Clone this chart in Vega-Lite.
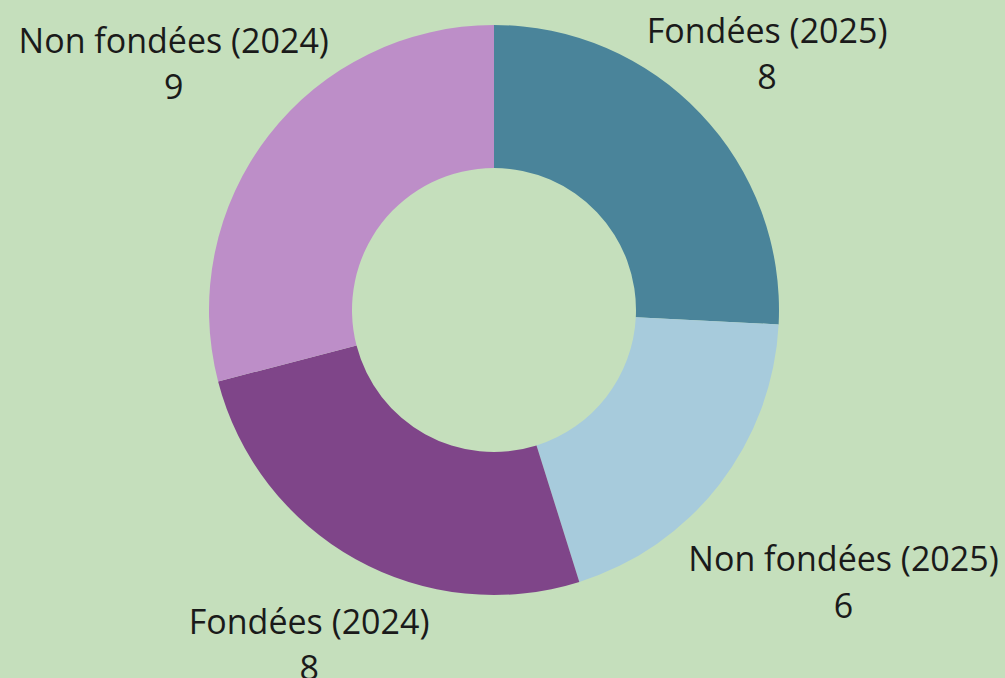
{
  "$schema": "https://vega.github.io/schema/vega-lite/v6.json",
  "autosize": "none",
  "width": 988,
  "height": 620,
  "padding": {"left": 0, "top": 0, "right": 17, "bottom": 58},
  "background": "#c5dfbc",
  "config": {"view": {"stroke": null}, "text": {"font": "Open Sans", "fontSize": 34, "color": "#1a1a1a", "align": "center", "baseline": "middle"}},
  "data": {
    "values": [
      {"cat": "Fondées (2025)", "ordre": 1, "n": 8},
      {"cat": "Non fondées (2025)", "ordre": 2, "n": 6},
      {"cat": "Fondées (2024)", "ordre": 3, "n": 8},
      {"cat": "Non fondées (2024)", "ordre": 4, "n": 9}
    ]
  },
  "encoding": {
    "theta": {"field": "n", "type": "quantitative", "stack": true},
    "order": {"field": "ordre", "type": "quantitative", "sort": "ascending"}
  },
  "layer": [
    {
      "mark": {"type": "arc", "outerRadius": 285, "innerRadius": 142, "stroke": null},
      "encoding": {
        "color": {
          "field": "cat",
          "type": "nominal",
          "legend": null,
          "scale": {
            "domain": ["Fondées (2025)", "Non fondées (2025)", "Fondées (2024)", "Non fondées (2024)"],
            "range": ["#4a849a", "#a7cbdc", "#7f4589", "#bd8ec8"]
          }
        }
      }
    },
    {
      "mark": {"type": "text", "radius": 374, "dy": -19.5, "dx": 2},
      "encoding": {"text": {"condition": {"test": "datum.cat === 'Fondées (2025)'", "field": "cat", "type": "nominal"}, "value": ""}}
    },
    {
      "mark": {"type": "text", "radius": 374, "dy": 27, "dx": 2},
      "encoding": {"text": {"condition": {"test": "datum.cat === 'Fondées (2025)'", "field": "n", "type": "quantitative"}, "value": ""}}
    },
    {
      "mark": {"type": "text", "radius": 442, "dy": -19.5},
      "encoding": {"text": {"condition": {"test": "datum.cat === 'Non fondées (2025)'", "field": "cat", "type": "nominal"}, "value": ""}}
    },
    {
      "mark": {"type": "text", "radius": 442, "dy": 27},
      "encoding": {"text": {"condition": {"test": "datum.cat === 'Non fondées (2025)'", "field": "n", "type": "quantitative"}, "value": ""}}
    },
    {
      "mark": {"type": "text", "radius": 381, "dy": -19.5},
      "encoding": {"text": {"condition": {"test": "datum.cat === 'Fondées (2024)'", "field": "cat", "type": "nominal"}, "value": ""}}
    },
    {
      "mark": {"type": "text", "radius": 381, "dy": 27},
      "encoding": {"text": {"condition": {"test": "datum.cat === 'Fondées (2024)'", "field": "n", "type": "quantitative"}, "value": ""}}
    },
    {
      "mark": {"type": "text", "radius": 405, "dy": -19.5},
      "encoding": {"text": {"condition": {"test": "datum.cat === 'Non fondées (2024)'", "field": "cat", "type": "nominal"}, "value": ""}}
    },
    {
      "mark": {"type": "text", "radius": 405, "dy": 27},
      "encoding": {"text": {"condition": {"test": "datum.cat === 'Non fondées (2024)'", "field": "n", "type": "quantitative"}, "value": ""}}
    }
  ]
}
